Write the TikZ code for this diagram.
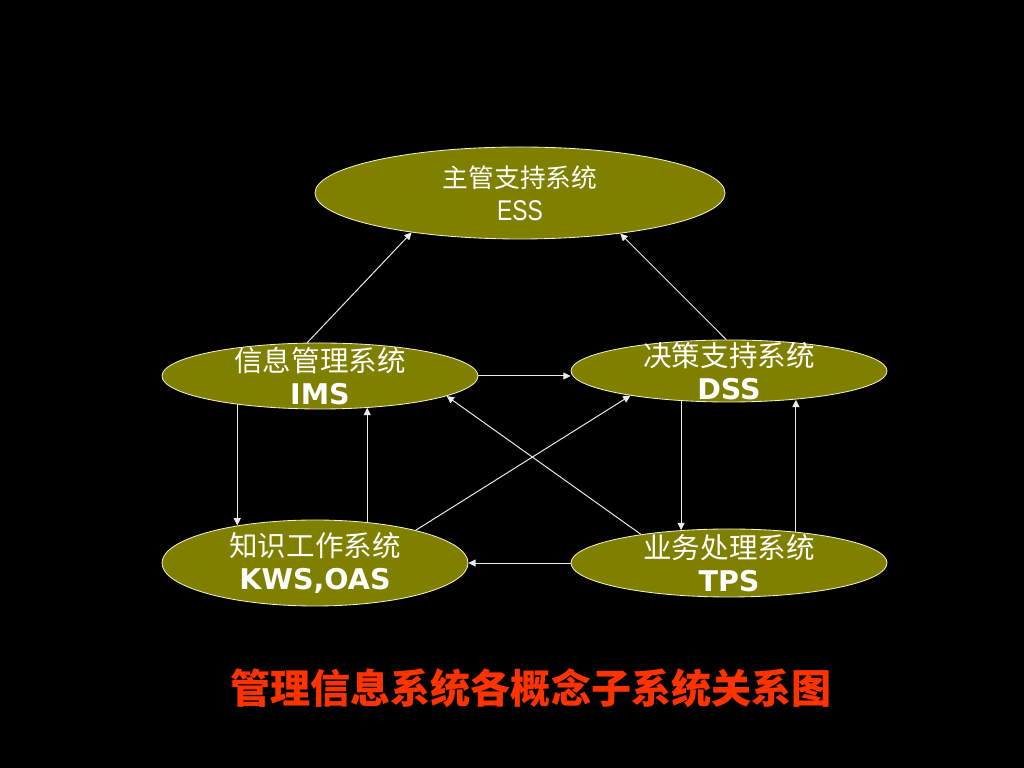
\documentclass[tikz,border=0pt]{standalone}
\usepackage{fontspec}
\newfontfamily\cjk{Noto Sans CJK SC}
\newfontfamily\latin{DejaVu Sans}
\newfontfamily\narrow{Liberation Sans}[FakeStretch=0.8]
\usetikzlibrary{arrows.meta}
\usetikzlibrary{shapes.geometric}
\pgfdeclarelayer{backlayer}
\pgfdeclarelayer{edgelayer}
\pgfdeclarelayer{nodelayer}
\pgfsetlayers{backlayer,edgelayer,nodelayer,main}
\definecolor{oliveg}{RGB}{128,128,0}
\definecolor{rimline}{RGB}{240,240,200}
\definecolor{arrowgrey}{RGB}{235,235,235}
\definecolor{titlered}{RGB}{255,51,0}
\tikzstyle{system}=[ellipse,fill=oliveg,draw=rimline,line width=0.6pt,inner sep=0pt,label={[style=systext]center:#1}]
\tikzstyle{systext}=[inner sep=0pt,text=white,align=center,font=\cjk\fontsize{20.3}{23.5}\selectfont]
\tikzstyle{flow}=[-{Triangle[length=5.2pt,width=5pt]},draw=arrowgrey,line width=0.7pt]
\tikzstyle{caption}=[inner sep=0pt,text=titlered,font=\cjk\bfseries\fontsize{28.5}{30}\selectfont]
\newcommand{\abbr}[1]{{\latin\bfseries #1}}

\begin{document}
\begin{tikzpicture}
	\begin{pgfonlayer}{backlayer}
		\fill[black] (0, 0) rectangle (25.6, 19.2);
	\end{pgfonlayer}
	\begin{pgfonlayer}{nodelayer}
		\node [style={system={\fontsize{18.3}{21.3}\selectfont 主管支持系统\\{\narrow ESS}}}, minimum width=10.25cm, minimum height=2.3cm] (0) at (13, 14.375) {};
		\node [style={system={信息管理系统\\\abbr{IMS}}}, minimum width=7.9cm, minimum height=1.65cm] (1) at (8, 9.8) {};
		\node [style={system={决策支持系统\\\abbr{DSS}}}, minimum width=7.9cm, minimum height=1.55cm] (2) at (18.225, 9.925) {};
		\node [style={system={知识工作系统\\\abbr{KWS,OAS}}}, minimum width=7.65cm, minimum height=2.15cm] (3) at (7.875, 5.125) {};
		\node [style={system={业务处理系统\\\abbr{TPS}}}, minimum width=7.9cm, minimum height=1.7cm] (4) at (18.225, 5.125) {};
		\node [style=caption] (5) at (13.275, 2) {管理信息系统各概念子系统关系图};
	\end{pgfonlayer}
	\begin{pgfonlayer}{edgelayer}
		\draw [style=flow] (1.111) to (0.200);
		\draw [style=flow] (2.95) to (0.-22);
		\draw [style=flow] (1.east) to (1.east -| 2.west);
		\draw [style=flow] (1.199) to (1.199 |- 3.154);
		\draw [style=flow] (3.38) to (3.38 |- 1.-34);
		\draw [style=flow] (3.18) to (2.194);
		\draw [style=flow] (4.162) to (1.-9);
		\draw [style=flow] (2.212) to (2.212 |- 4.145);
		\draw [style=flow] (4.25) to (4.25 |- 2.-24);
		\draw [style=flow] (4.west) to (3.east);
	\end{pgfonlayer}
\end{tikzpicture}
\end{document}
